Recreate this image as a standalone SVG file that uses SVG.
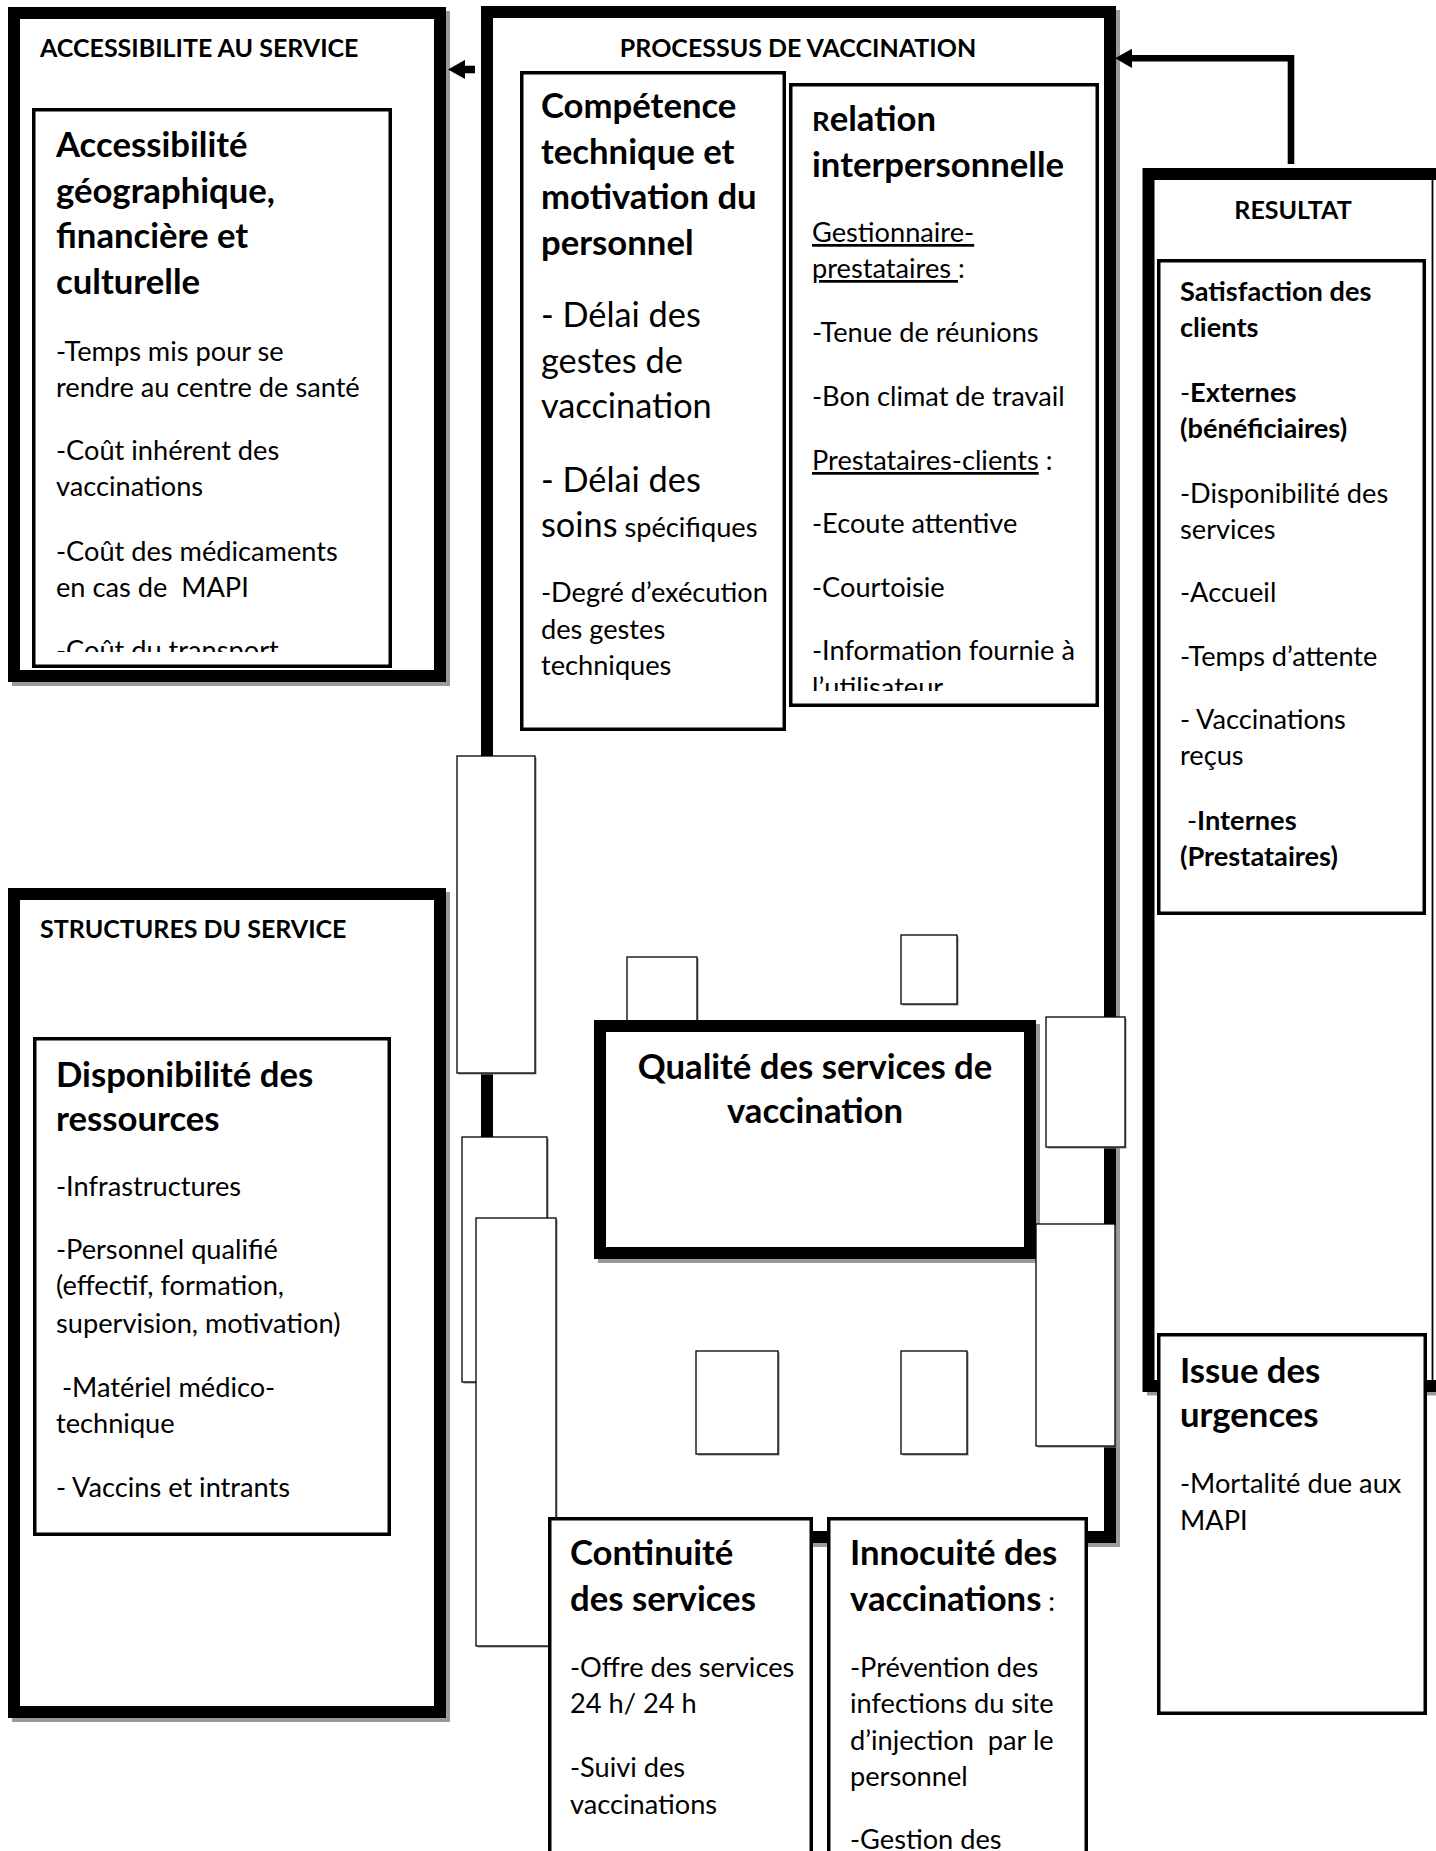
<svg xmlns="http://www.w3.org/2000/svg" width="1436" height="1851" viewBox="0 0 1436 1851">
<defs>
<style>
text{font-family:Lato,"Liberation Sans",sans-serif;fill:#000}
.ti{font-size:25px;font-weight:700}
.hb{font-size:34.7px;font-weight:700}
.hr{font-size:34.3px;font-weight:400}
.nr{font-size:27.2px;font-weight:400}
.nb{font-size:27.2px;font-weight:700}
.b{font-weight:700}
.u{text-decoration:underline}
.thick{fill:#fff;stroke:#000;stroke-width:12}
.shadow{fill:#9a9a9a}
.inner{fill:#fff;stroke:#000;stroke-width:3.5}
.ph{fill:#fff;stroke:#000;stroke-width:1.3}
.phs{fill:#8a8a8a}
.conn{fill:none;stroke:#000;stroke-linejoin:miter;stroke-linecap:butt}
</style>
<marker id="ah" viewBox="0 -10 17 20" markerWidth="17" markerHeight="20" refX="0" refY="0" orient="auto" markerUnits="userSpaceOnUse">
<path d="M0,-9.6 L17,0 L0,9.6 z" fill="#000"/>
</marker>
<clipPath id="clipA"><rect x="36" y="112" width="352" height="540"/></clipPath>
<clipPath id="clipR"><rect x="793" y="87" width="302" height="604"/></clipPath>
</defs>
<rect x="0" y="0" width="1436" height="1851" fill="#fff"/>

<g id="accessibilite">
<rect class="shadow" x="12" y="11" width="438" height="675"/>
<rect class="thick" x="14" y="13" width="426" height="663"/>
<text class="ti" x="40" y="57">ACCESSIBILITE AU SERVICE</text>
<g id="accessibilite-detail">
<rect class="inner" x="33.75" y="109.75" width="356.5" height="556.5"/>
<text class="hb" x="56" y="157">Accessibilité</text>
<text class="hb" x="56" y="202.5">géographique,</text>
<text class="hb" x="56" y="248">financière et</text>
<text class="hb" x="56" y="293.5">culturelle</text>
<g clip-path="url(#clipA)">
<text class="nr" x="56" y="360.5">-Temps mis pour se</text>
<text class="nr" x="56" y="396.5">rendre au centre de santé</text>
<text class="nr" x="56" y="459.5">-Coût inhérent des</text>
<text class="nr" x="56" y="496">vaccinations</text>
<text class="nr" x="56" y="560.5">-Coût des médicaments</text>
<text class="nr" x="56" y="596.5" xml:space="preserve">en cas de  MAPI</text>
<text class="nr" x="56" y="660">-Coût du transport</text>
</g>
</g>
</g>

<g id="structures">
<rect class="shadow" x="12" y="892" width="438" height="830"/>
<rect class="thick" x="14" y="894" width="426" height="818"/>
<text class="ti" x="40" y="937.5">STRUCTURES DU SERVICE</text>
<g id="disponibilite">
<rect class="inner" x="34.75" y="1038.75" width="354.5" height="495.5"/>
<text class="hb" x="56" y="1086.5">Disponibilité des</text>
<text class="hb" x="56" y="1130.5">ressources</text>
<text class="nr" x="56" y="1196">-Infrastructures</text>
<text class="nr" x="56" y="1258.5">-Personnel qualifié</text>
<text class="nr" x="56" y="1295">(effectif, formation,</text>
<text class="nr" x="56" y="1332.5">supervision, motivation)</text>
<text class="nr" x="62" y="1396.5">-Matériel médico-</text>
<text class="nr" x="56" y="1433">technique</text>
<text class="nr" x="56" y="1497">- Vaccins et intrants</text>
</g>
</g>

<g id="processus">
<rect class="shadow" x="485" y="10" width="635" height="1537"/>
<rect class="thick" x="487" y="12" width="623" height="1525"/>
<text class="ti" x="798" y="57" text-anchor="middle">PROCESSUS DE VACCINATION</text>
</g>

<g id="competence">
<rect class="inner" x="521.75" y="72.75" width="262.5" height="656.5"/>
<text class="hb" x="541" y="118">Compétence</text>
<text class="hb" x="541" y="163.5">technique et</text>
<text class="hb" x="541" y="209">motivation du</text>
<text class="hb" x="541" y="254.5">personnel</text>
<text class="hr" x="541" y="327">- Délai des</text>
<text class="hr" x="541" y="372.5">gestes de</text>
<text class="hr" x="541" y="418">vaccination</text>
<text class="hr" x="541" y="491.5">- Délai des</text>
<text class="hr" x="541" y="537">soins<tspan class="nr"> spécifiques</tspan></text>
<text class="nr" x="541" y="602">-Degré d’exécution</text>
<text class="nr" x="541" y="638.5">des gestes</text>
<text class="nr" x="541" y="675">techniques</text>
</g>

<g id="relation">
<rect class="inner" x="790.75" y="84.75" width="306.5" height="620.5"/>
<text class="hb" x="812" y="131"><tspan font-size="27.5px">R</tspan>elation</text>
<text class="hb" x="812" y="176.5">interpersonnelle</text>
<g clip-path="url(#clipR)">
<text class="nr" x="812" y="242"><tspan class="u">Gestionnaire-</tspan></text>
<text class="nr" x="812" y="278" xml:space="preserve"><tspan class="u">prestataires </tspan>:</text>
<text class="nr" x="812" y="342">-Tenue de réunions</text>
<text class="nr" x="812" y="406">-Bon climat de travail</text>
<text class="nr" x="812" y="470" xml:space="preserve"><tspan class="u">Prestataires-clients</tspan> :</text>
<text class="nr" x="812" y="533">-Ecoute attentive</text>
<text class="nr" x="812" y="596.5">-Courtoisie</text>
<text class="nr" x="812" y="660">-Information fournie à</text>
<text class="nr" x="812" y="697">l’utilisateur</text>
</g>
</g>

<g id="box-r1"><rect class="phs" x="458.5" y="757.5" width="78" height="317"/><rect class="ph" x="457" y="756" width="78" height="317"/></g>
<g id="box-r2"><rect class="phs" x="463.5" y="1138.5" width="85" height="245"/><rect class="ph" x="462" y="1137" width="85" height="245"/></g>
<g id="box-r3"><rect class="phs" x="477.5" y="1219.5" width="80" height="428"/><rect class="ph" x="476" y="1218" width="80" height="428"/></g>
<g id="box-r4"><rect class="phs" x="628.5" y="958.5" width="70" height="66"/><rect class="ph" x="627" y="957" width="70" height="66"/></g>

<g id="qualite">
<rect class="shadow" x="598" y="1024" width="442" height="239"/>
<rect class="thick" x="600" y="1026" width="430" height="227"/>
<text class="hb" x="815" y="1079" text-anchor="middle">Qualité des services de</text>
<text class="hb" x="815" y="1123" text-anchor="middle">vaccination</text>
</g>

<g id="box-r5"><rect class="phs" x="902.5" y="936.5" width="56" height="69"/><rect class="ph" x="901" y="935" width="56" height="69"/></g>
<g id="box-r6"><rect class="phs" x="1047.5" y="1018.5" width="79" height="130"/><rect class="ph" x="1046" y="1017" width="79" height="130"/></g>
<g id="box-r7"><rect class="phs" x="1037.5" y="1225.5" width="79" height="222"/><rect class="ph" x="1036" y="1224" width="79" height="222"/></g>
<g id="box-r8"><rect class="phs" x="697.5" y="1352.5" width="82" height="103"/><rect class="ph" x="696" y="1351" width="82" height="103"/></g>
<g id="box-r9"><rect class="phs" x="902.5" y="1352.5" width="66" height="103"/><rect class="ph" x="901" y="1351" width="66" height="103"/></g>

<g id="continuite">
<rect class="inner" x="549.75" y="1518.75" width="261.5" height="360"/>
<text class="hb" x="570" y="1565">Continuité</text>
<text class="hb" x="570" y="1610.5">des services</text>
<text class="nr" x="570" y="1677">-Offre des services</text>
<text class="nr" x="570" y="1713">24 h/ 24 h</text>
<text class="nr" x="570" y="1777">-Suivi des</text>
<text class="nr" x="570" y="1813.5">vaccinations</text>
</g>

<g id="innocuite">
<rect class="inner" x="828.75" y="1518.75" width="257.5" height="360"/>
<text class="hb" x="850" y="1565">Innocuité des</text>
<text class="hb" x="850" y="1610.5" xml:space="preserve">vaccinations<tspan class="nr"> :</tspan></text>
<text class="nr" x="850" y="1677">-Prévention des</text>
<text class="nr" x="850" y="1713">infections du site</text>
<text class="nr" x="850" y="1750" xml:space="preserve">d’injection  par le</text>
<text class="nr" x="850" y="1786">personnel</text>
<text class="nr" x="850" y="1849">-Gestion des</text>
</g>

<g id="resultat">
<rect class="shadow" x="1147" y="172.5" width="311" height="1223"/>
<rect class="thick" x="1148.5" y="174" width="300" height="1212" stroke-width="11"/>
<line x1="1432.5" y1="179" x2="1432.5" y2="1381" stroke="#000" stroke-width="1.8"/>
<text class="ti" x="1293" y="219" text-anchor="middle">RESULTAT</text>
<g id="satisfaction">
<rect class="inner" x="1158.75" y="260.75" width="265.5" height="652.5"/>
<text class="nb" x="1180" y="301">Satisfaction des</text>
<text class="nb" x="1180" y="337">clients</text>
<text class="nr" x="1180" y="402">-<tspan class="b">Externes</tspan></text>
<text class="nb" x="1180" y="438">(bénéficiaires)</text>
<text class="nr" x="1180" y="502.5">-Disponibilité des</text>
<text class="nr" x="1180" y="538.5">services</text>
<text class="nr" x="1180" y="602">-Accueil</text>
<text class="nr" x="1180" y="665.5">-Temps d’attente</text>
<text class="nr" x="1180" y="729">- Vaccinations</text>
<text class="nr" x="1180" y="765">reçus</text>
<text class="nr" x="1187" y="829.5">-<tspan class="b">Internes</tspan></text>
<text class="nb" x="1180" y="866">(Prestataires)</text>
</g>
</g>

<g id="issue">
<rect class="inner" x="1158.75" y="1334.75" width="266.5" height="378.5"/>
<text class="hb" x="1180" y="1383">Issue des</text>
<text class="hb" x="1180" y="1427">urgences</text>
<text class="nr" x="1180" y="1493">-Mortalité due aux</text>
<text class="nr" x="1180" y="1530">MAPI</text>
</g>

<g id="connectors">
<path class="conn" d="M475,69.5 H465" stroke-width="7.6" marker-end="url(#ah)"/>
<path class="conn" d="M1291,164 V58.3 H1132" stroke-width="6.6" marker-end="url(#ah)"/>
</g>
</svg>
